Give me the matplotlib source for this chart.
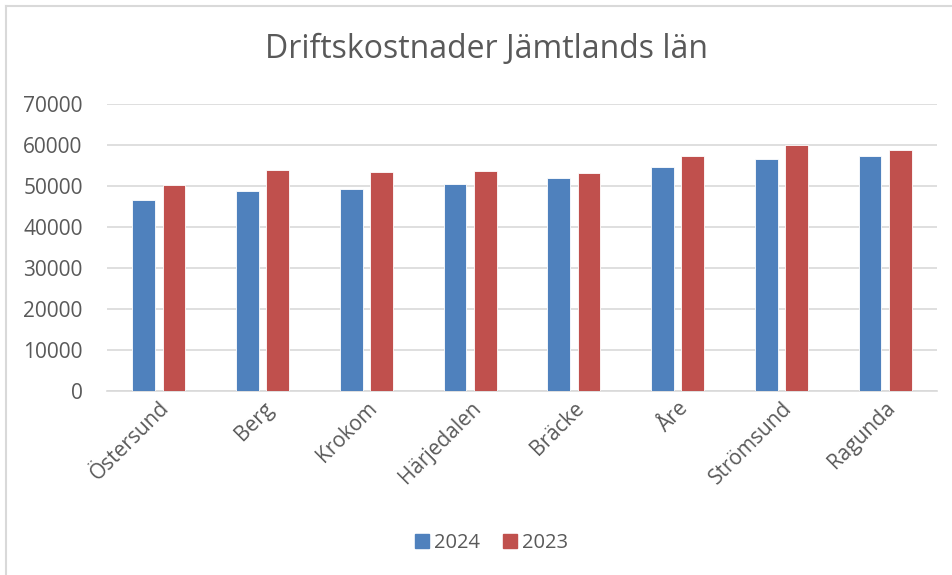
import numpy as np
import matplotlib.pyplot as plt
from matplotlib.lines import Line2D

plt.rcParams['font.family'] = ['Open Sans', 'DejaVu Sans']

# data
kommuner = ['Östersund', 'Berg', 'Krokom', 'Härjedalen', 'Bräcke', 'Åre', 'Strömsund', 'Ragunda']
v2024 = [46500, 48900, 49300, 50400, 51900, 54700, 56700, 57300]
v2023 = [50200, 53800, 53300, 53700, 53200, 57300, 60000, 58900]
yticks = [0, 10000, 20000, 30000, 40000, 50000, 60000, 70000]

BLUE = '#4F81BD'
RED = '#C0504D'
TXT = '#595959'
GRID = '#D9D9D9'

W, H = 952, 575
fig = plt.figure(figsize=(W / 100, H / 100), dpi=100)
# plot area in pixels: x 107..937, y 104..391
ax = fig.add_axes([107 / W, 1 - 391 / H, (937 - 107) / W, (391 - 104) / H])

x = np.arange(len(kommuner))
bw = 0.22
ax.bar(x - 0.145, v2024, bw, color=BLUE, edgecolor='white', linewidth=0.6, label='2024', zorder=3)
ax.bar(x + 0.145, v2023, bw, color=RED, edgecolor='white', linewidth=0.6, label='2023', zorder=3)

ax.set_xlim(-0.5, len(kommuner) - 0.5)
ax.set_ylim(0, 70000)
ax.set_yticks(yticks)
ax.set_yticklabels([str(v) for v in yticks])
ax.yaxis.grid(True, color=GRID, linewidth=1.2)
ax.set_axisbelow(True)
for s in ['top', 'right', 'left']:
    ax.spines[s].set_visible(False)
ax.spines['bottom'].set_color(GRID)
ax.spines['bottom'].set_linewidth(1.2)
ax.tick_params(axis='both', length=0, colors=TXT, labelsize=15)
ax.tick_params(axis='y', pad=17.5)
ax.set_xticks(x)
ax.set_xticklabels(kommuner, rotation=45, ha='right', rotation_mode='anchor')
ax.tick_params(axis='x', pad=5)

fig.text(486.5 / W, 1 - 50 / H, 'Driftskostnader Jämtlands län', ha='center', va='center',
         fontsize=23, color=TXT)

handles = [Line2D([], [], marker='s', linestyle='', markersize=10.5, color=BLUE),
           Line2D([], [], marker='s', linestyle='', markersize=10.5, color=RED)]
fig.legend(handles, ['2024', '2023'], loc='center', bbox_to_anchor=(490 / W, 1 - 543 / H),
           ncol=2, frameon=False, fontsize=14.5, labelcolor=TXT,
           handletextpad=0.1, columnspacing=1.0, handlelength=1.0)

# light frame around the chart (top and left visible)
fig.add_artist(Line2D([6 / W, 1], [1 - 5.5 / H, 1 - 5.5 / H], color='#D9D9D9', linewidth=1.5))
fig.add_artist(Line2D([6 / W, 6 / W], [0, 1 - 5.5 / H], color='#D9D9D9', linewidth=1.5))

fig.savefig('out.png', dpi=100)
